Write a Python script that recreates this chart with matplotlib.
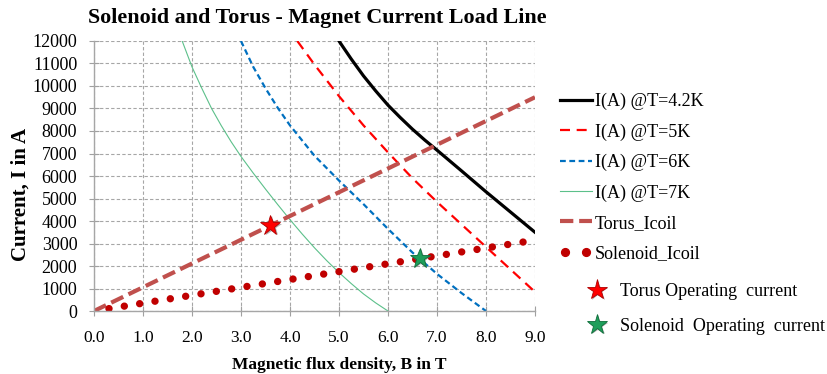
import matplotlib
matplotlib.use("Agg")
import matplotlib.pyplot as plt
import matplotlib.patheffects as pe
from matplotlib.lines import Line2D
from matplotlib.legend_handler import HandlerLine2D

plt.rcParams["font.family"] = ["Liberation Serif", "DejaVu Serif"]

# ── data ────────────────────────────────────────────────────────────────────
b_42k = [5.0, 5.25, 5.5, 5.75, 6.0, 6.25, 6.5, 6.75, 7.0, 7.5, 8.0, 8.5, 9.0]
i_42k = [12000, 11200, 10450, 9780, 9150, 8600, 8080, 7600, 7150, 6230, 5300,
         4400, 3500]

b_5k = [4.15, 4.5, 5.0, 5.5, 6.0, 6.5, 7.0, 7.5, 8.0, 8.5, 9.0]
i_5k = [12000, 10950, 9550, 8250, 7050, 5900, 4850, 3850, 2850, 1850, 850]

b_6k = [3.0, 3.25, 3.5, 3.75, 4.0, 4.5, 5.0, 5.5, 6.0, 6.5, 7.0, 7.5, 8.0]
i_6k = [12000, 10850, 9900, 9030, 8250, 6900, 5800, 4750, 3650, 2600, 1650,
        800, 0]

b_7k = [1.80, 2.0, 2.2, 2.4, 2.6, 2.8, 3.0, 3.25, 3.5, 3.75, 4.0, 4.25, 4.5,
        4.75, 5.0, 5.25, 5.5, 5.75, 6.0]
i_7k = [12000, 10850, 9900, 9000, 8230, 7520, 6870, 6130, 5420, 4730, 4060,
        3420, 2810, 2240, 1710, 1220, 760, 360, 0]

b_torus = [0.0, 9.0]
i_torus = [0, 9500]

b_sol = [0.0, 9.0]
i_sol = [0, 3150]

torus_op = (3.6, 3800)
sol_op = (6.65, 2350)

x_ticks = [0, 1, 2, 3, 4, 5, 6, 7, 8, 9]
y_ticks = list(range(0, 12001, 1000))

labels = ["I(A) @T=4.2K", "I(A) @T=5K", "I(A) @T=6K", "I(A) @T=7K",
          "Torus_Icoil", "Solenoid_Icoil"]
star_labels = ["Torus Operating  current", "Solenoid  Operating  current"]

# ── figure ──────────────────────────────────────────────────────────────────
fig = plt.figure(figsize=(8.28, 3.74), dpi=100)
ax = fig.add_axes([0.1135, 0.1684, 0.5326, 0.722])

h1, = ax.plot(b_42k, i_42k, color="black", lw=2.3)
h2, = ax.plot(b_5k, i_5k, color="#FF0000", lw=1.6, linestyle=(0, (4.5, 3)))
h3, = ax.plot(b_6k, i_6k, color="#0070C0", lw=1.6, linestyle=(0, (2.6, 1.6)))
h4, = ax.plot(b_7k, i_7k, color="#5CC08A", lw=0.8)
h5, = ax.plot(b_torus, i_torus, color="#C0504D", lw=3.0, linestyle=(0, (3.2, 1.4)))
ax.plot(b_sol, i_sol, color="#C00000", lw=5.3,
        linestyle=(0.05, (0.01, 2.1)), dash_capstyle="round")
# legend proxy: two dots like the reference
h6 = Line2D([], [], color="#C00000", marker="o", ms=5.6, linestyle="none")

shadow = [pe.SimplePatchShadow(offset=(1, -1), shadow_rgbFace="#808080", alpha=0.6),
          pe.Normal()]
star_red = dict(marker="*", ms=15, color="#FF0000", mec="#B00000", mew=0.6,
                linestyle="none", path_effects=shadow)
star_green = dict(marker="*", ms=15, color="#1E9E5A", mec="#0E6E3A", mew=0.6,
                  linestyle="none", path_effects=shadow)
ax.plot(*torus_op, zorder=6, **star_red)
ax.plot(*sol_op, zorder=6, **star_green)

ax.set_xlim(0, 9)
ax.set_ylim(0, 12000)
ax.set_xticks(x_ticks)
ax.set_xticklabels([f"{v:.1f}" for v in x_ticks])
ax.set_yticks(y_ticks)
ax.tick_params(direction="inout", length=7, color="#A0A0A0")
ax.tick_params(axis="y", pad=8.5, labelsize=13)
ax.tick_params(axis="x", pad=10, labelsize=12.5)

ax.grid(True, color="#A6A6A6", linestyle=(0, (3, 2)), lw=0.8)
for side in ("top", "right"):
    ax.spines[side].set_visible(False)
for side in ("left", "bottom"):
    ax.spines[side].set_color("#A6A6A6")
    ax.spines[side].set_linewidth(1.0)

fig.text(0.106, 0.952, "Solenoid and Torus - Magnet Current Load Line",
         fontsize=15.8, fontweight="bold", ha="left", va="center")
fig.text(0.025, 0.481, "Current, I in A", rotation=90, fontsize=15,
         fontweight="bold", ha="center", va="center")
fig.text(0.41, 0.025, "Magnetic flux density, B in T", fontsize=12.5,
         fontweight="bold", ha="center", va="center")

fig.legend([h1, h2, h3, h4, h5, h6], labels, loc="upper left",
           bbox_to_anchor=(0.676, 0.752), frameon=False, fontsize=13,
           handlelength=1.77, handletextpad=0.17, labelspacing=0.73,
           borderaxespad=0, borderpad=0,
           handler_map={h6: HandlerLine2D(numpoints=2)})

fig.legend([Line2D([], [], **star_red), Line2D([], [], **star_green)],
           star_labels, loc="upper left", bbox_to_anchor=(0.708, 0.243),
           frameon=False, fontsize=13, handlelength=1.2, handletextpad=0.68,
           labelspacing=0.98, borderaxespad=0, borderpad=0)

fig.savefig("out.png", dpi=100, facecolor="white")
